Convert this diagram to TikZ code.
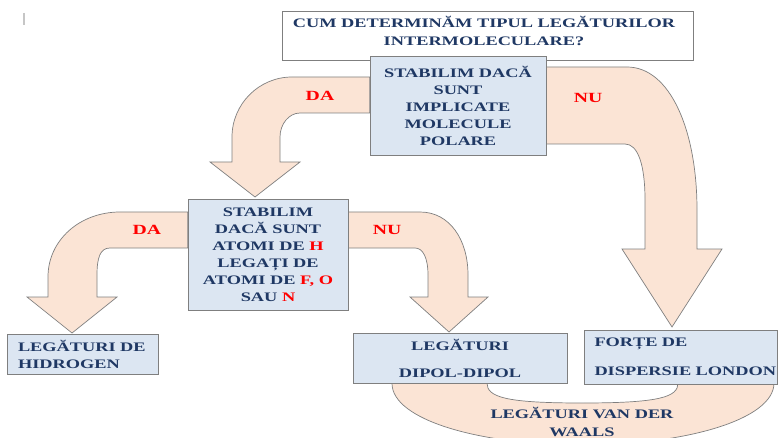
\documentclass[tikz,border=0pt]{standalone}
\usepackage{fontspec}
\setmainfont{Liberation Serif}[FakeStretch=1.41]
\usetikzlibrary{backgrounds}
\definecolor{boxblue}{RGB}{220,230,242}
\definecolor{peach}{RGB}{251,228,213}
\definecolor{navy}{RGB}{31,56,100}
\definecolor{edge}{RGB}{127,127,127}
\newcommand{\rd}[1]{\textcolor{red}{#1}}

\begin{document}
\begin{tikzpicture}[x=1pt, y=-1pt,
    box/.style={draw=edge, line width=0.8pt, fill=boxblue, inner sep=0pt, align=center, text=navy, font=\fontsize{13}{17}\selectfont\bfseries},
    blk/.style={draw=edge, line width=0.7pt, fill=peach},
    lbl/.style={text=red, font=\fontsize{14}{17}\selectfont\bfseries}
  ]
  \useasboundingbox (0,0) rectangle (778,438);
  \clip (0,0) rectangle (778,438);

  \draw[gray!45, line width=1.5pt] (24,13) -- (24,25);

  \node[box, fill=white, minimum width=411pt, minimum height=49pt] (title) at (487.5,35.5) {};
  \node[box, draw=none, fill=none, font=\fontsize{13}{18}\selectfont\bfseries] (titletext) at (484,31) {CUM DETERMINĂM TIPUL LEGĂTURILOR\\INTERMOLECULARE?};
  \node[box, minimum width=176pt, minimum height=99pt] (q1) at (458,105.5) {STABILIM DACĂ\\SUNT\\IMPLICATE\\MOLECULE\\POLARE};
  \node[box, minimum width=160pt, minimum height=111pt] (q2) at (268,254.5) {STABILIM\\DACĂ SUNT\\ATOMI DE \rd{H}\\LEGAȚI DE\\ATOMI DE \rd{F, O}\\SAU \rd{N}};
  \node[box, minimum width=151pt, minimum height=40pt, text width=129pt, align=left] (hyd) at (82.5,354) {LEGĂTURI DE\\HIDROGEN};
  \node[box, minimum width=214pt, minimum height=50pt] (dip) at (460,358) {LEGĂTURI\\[10pt]DIPOL-DIPOL};
  \node[box, minimum width=193pt, minimum height=54pt, text width=172pt, align=left] (lon) at (680.5,357) {FORȚE DE\\[12pt]\mbox{DISPERSIE LONDON}};

  \node[lbl] (da1) at (320,96) {DA};
  \node[lbl] (nu1) at (588,98) {NU};
  \node[lbl] (da2) at (147,230) {DA};
  \node[lbl] (nu2) at (387,230) {NU};
  \node[box, draw=none, fill=none, font=\fontsize{13}{18}\selectfont\bfseries] (vdw) at (582,422) {LEGĂTURI VAN DER\\WAALS};

  \begin{scope}[on background layer]
    % da / nu from the first question
    \draw[blk] (q1.west |- 0,77) -- (292,77) .. controls (259,77) and (232,104) .. (232,137) -- (232,162) -- (210,162) -- (255,197) -- (300,162) -- (280,162) -- (280,137) .. controls (280,124) and (289,113) .. (300,113) -- (q1.west |- 0,113) -- cycle;
    \draw[blk] (q1.east |- 0,67) -- (627,67) .. controls (670,67) and (697,130) .. (697,210) -- (697,249) -- (722,249) -- (672,327) -- (622,249) -- (645,249) -- (645,200) .. controls (645,165) and (638,144) .. (625,144) -- (q1.east |- 0,144) -- cycle;
    % da / nu from the second question
    \draw[blk] (q2.west |- 0,212) -- (120,212) .. controls (80,212) and (48,240) .. (48,277) -- (48,297) -- (27,297) -- (72,333) -- (117,297) -- (97,297) -- (97,275) .. controls (97,258) and (100,248) .. (110,248) -- (q2.west |- 0,248) -- cycle;
    \draw[blk] (q2.east |- 0,212) -- (420,212) .. controls (450,212) and (468,240) .. (468,275) -- (468,297) -- (488,297) -- (449,332) -- (410,297) -- (428,297) -- (428,275) .. controls (428,258) and (423,248) .. (415,248) -- (q2.east |- 0,248) -- cycle;
    % van der waals
    \draw[blk] (dip.south -| 392,0) .. controls (392,420) and (480,445) .. (582,445) .. controls (684,445) and (774,420) .. (774,383) -- (678,383) .. controls (678,397) and (660,403) .. (582,403) .. controls (505,403) and (487,397) .. (487,383) -- cycle;
  \end{scope}
\end{tikzpicture}
\end{document}
